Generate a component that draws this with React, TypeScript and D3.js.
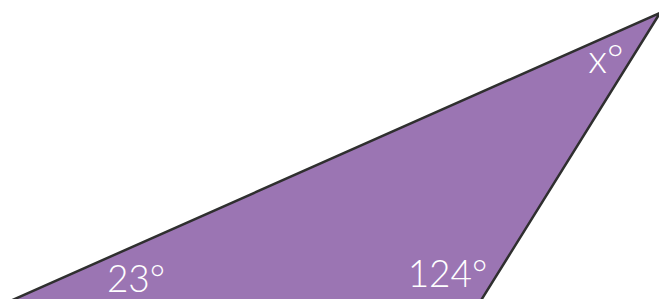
import * as React from "react";
import * as d3 from "d3";

// triangle corners, in figure units (bottom corners sit just below the frame)
const vertexNames = ["A", "B", "C"];
const vertexX = [0.8, 48.0, 66.0];
const vertexY = [-0.3, -0.3, 28.6];

// angle labels, placed near each corner
const angleLabels = ["23°", "124°", "x°"];
const labelX = [13.6, 44.75, 60.6];
const labelY = [0.75, 1.2, 22.6];
const labelSize = [37, 37, 40];

const W = 659;
const H = 299;

export default function App() {
  const x = d3.scaleLinear().domain([0, 65.9]).range([0, W]);
  const y = d3.scaleLinear().domain([0, 29.9]).range([H, 0]);

  const pts: [number, number][] = vertexNames.map((_, i) => [
    x(vertexX[i]),
    y(vertexY[i])
  ]);
  const path = d3.line().curve(d3.curveLinearClosed)(pts) as string;

  return (
    <svg
      width={W}
      height={H}
      style={{ position: "absolute", left: 0, top: 0, display: "block" }}
    >
      <rect width={W} height={H} fill="#ffffff" />
      <path
        d={path}
        fill="#9b75b3"
        stroke="#2f2f2f"
        strokeWidth={2.5}
        strokeLinejoin="miter"
      />
      {angleLabels.map((t, i) => (
        <text
          key={t}
          x={x(labelX[i])}
          y={y(labelY[i])}
          textAnchor="middle"
          fill="#ffffff"
          fontFamily="Lato, 'Open Sans', sans-serif"
          fontWeight={300}
          fontSize={labelSize[i]}
        >
          {t}
        </text>
      ))}
    </svg>
  );
}
